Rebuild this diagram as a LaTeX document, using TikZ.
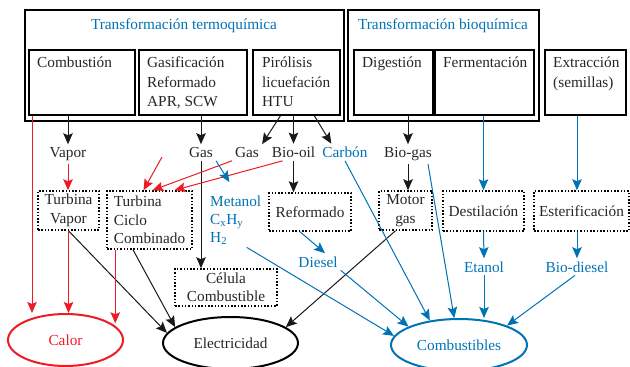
\documentclass[tikz,border=0pt]{standalone}
\usepackage{fontspec}
\setmainfont{Liberation Serif}
\usetikzlibrary{arrows.meta,shapes.geometric,calc}
\definecolor{myblue}{RGB}{0,114,182}
\definecolor{myred}{RGB}{237,28,36}
\begin{document}
\begin{tikzpicture}[x=1pt,y=-1pt,
  every node/.style={font=\fontsize{15.3}{19.5}\selectfont, text=black!85},
  frame/.style={draw, line width=1.8pt, anchor=north west, inner sep=0pt},
  boxtext/.style={anchor=base west, align=left, inner sep=0pt},
  dotbox/.style={draw, line width=1.5pt, dash pattern=on 1.5pt off 1.8pt, inner sep=2pt, align=center, font=\fontsize{15.3}{18.5}\selectfont},
  lbl/.style={anchor=base, inner sep=3pt},
  bluetext/.style={text=myblue},
  outcome/.style={ellipse, draw, line width=2pt, inner sep=0pt, minimum height=52pt},
  arr/.style={-{Stealth[length=11pt,width=9.5pt,inset=2pt]}, line width=1pt},
  arrB/.style={arr, draw=black!90},
  arrR/.style={arr, draw=myred},
  arrBl/.style={arr, draw=myblue}
]
\useasboundingbox (0,0) rectangle (630,367);
% frames
\node[frame, minimum width=319pt, minimum height=111pt] (termo) at (24,9) {};
\node[frame, minimum width=191pt, minimum height=111pt] (bio) at (347,9) {};
\node[frame, minimum width=106pt, minimum height=65pt] (comb) at (28,49) {};
\node[frame, minimum width=108pt, minimum height=65pt] (gasi) at (138,49) {};
\node[frame, minimum width=87pt, minimum height=65pt] (piro) at (252,49) {};
\node[frame, minimum width=79pt, minimum height=65pt] (dig) at (353,49) {};
\node[frame, minimum width=99pt, minimum height=65pt] (ferm) at (434,49) {};
\node[frame, minimum width=81pt, minimum height=65pt] (extr) at (544,49) {};
% titles
\node[anchor=base, inner sep=0pt, bluetext] (ttitle) at (184,29) {Transformación termoquímica};
\node[anchor=base, inner sep=0pt, bluetext] (btitle) at (443,29) {Transformación bioquímica};
% box texts (base anchor = baseline of last line)
\node[boxtext] (combt) at (37,67.5) {Combustión};
\node[boxtext] (gasit) at (147,106.5) {Gasificación\\Reformado\\APR, SCW};
\node[boxtext] (pirot) at (262,106.5) {Pirólisis\\licuefación\\HTU};
\node[boxtext] (digt) at (362,67.5) {Digestión};
\node[boxtext] (fermt) at (443,67.5) {Fermentación};
\node[boxtext] (extrt) at (553,87) {Extracción\\(semillas)};
% dotted boxes
\node[dotbox, minimum width=61pt, minimum height=39pt] (tvap) at (68.5,210.5) {Turbina\\Vapor};
\node[dotbox, align=left, minimum width=85pt, minimum height=58pt] (tcc) at (149.5,220) {Turbina\\Ciclo\\Combinado};
\node[dotbox, minimum width=102pt, minimum height=37pt] (celula) at (226,287.5) {Célula\\Combustible};
\node[dotbox, minimum width=82pt, minimum height=38pt] (refo) at (310,212) {Reformado};
\node[dotbox, minimum width=53pt, minimum height=39pt] (motor) at (405.5,210.5) {Motor\\gas};
\node[dotbox, minimum width=81pt, minimum height=40pt] (dest) at (483.5,211) {Destilación};
\node[dotbox, minimum width=95pt, minimum height=40pt] (ester) at (581.5,211) {Esterificación};
% labels
\node[lbl] (vapor) at (68,157.5) {Vapor};
\node[lbl] (gasa) at (201,157.5) {Gas};
\node[lbl] (gasb) at (247,157.5) {Gas};
\node[lbl] (biooil) at (293.5,157.5) {Bio-oil};
\node[lbl, bluetext] (carbon) at (345,157.5) {Carbón};
\node[lbl] (biogas) at (408,157.5) {Bio-gas};
\node[anchor=base west, align=left, inner sep=3pt, bluetext, font=\fontsize{15.3}{18}\selectfont] (meta) at (207,242) {Metanol\\C\textsubscript{x}H\textsubscript{y}\\H\textsubscript{2}};
\node[lbl, bluetext] (diesel) at (318,267) {Diesel};
\node[lbl, bluetext] (etanol) at (484,272) {Etanol};
\node[lbl, bluetext] (biodiesel) at (577,272) {Bio-diesel};
% outcomes
\node[outcome, draw=myred, text=myred, minimum width=115pt] (calor) at (65.5,340) {Calor};
\node[outcome, draw=black, minimum width=135pt] (elec) at (230.5,343) {Electricidad};
\node[outcome, draw=myblue, text=myblue, minimum width=136pt] (combus) at (459,345) {Combustibles};
% black connectors
\draw[arrB] (comb.south -| vapor.north) -- (vapor.north);
\draw[arrB] (gasi.south -| gasa.north) -- (gasa.north);
\draw[arrB] ([xshift=-16pt]piro.south) -- (gasb.north east);
\draw[arrB] (piro.south -| biooil.north) -- (biooil.north);
\draw[arrB] ([xshift=18pt]piro.south) -- ([xshift=12pt]carbon.north west);
\draw[arrB] (dig.south -| biogas.north) -- (biogas.north);
\draw[arrB] (biogas.south) -- (biogas.south |- motor.north);
\draw[arrB] (biooil.south) -- (biooil.south |- refo.north);
\draw[arrB] (gasa.south) -- (gasa.south |- celula.north);
\draw[arrB] (tvap.south) -- (elec.171);
\draw[arrB] ([xshift=-16.5pt]tcc.south) -- (elec.164);
\draw[arrB] ([xshift=-10pt]motor.south) -- (elec.16);
% red connectors
\draw[arrR] ([xshift=4pt]comb.south west) -- ([xshift=4pt]comb.south west |- calor.north);
\draw[arrR] (vapor.south) -- (vapor.south |- tvap.north);
\draw[arrR] (tvap.south) -- (tvap.south |- calor.north);
\draw[arrR] ([xshift=9pt]tcc.south west) -- ([xshift=9pt]tcc.south west |- calor.20);
\coordinate (redsrc) at (162,157);
\draw[arrR] (redsrc) -- ([xshift=-6pt]tcc.north);
\draw[arrR] (gasb.south west) -- ([xshift=3pt]tcc.north);
\draw[arrR] ([xshift=-11pt]biooil.south) -- ([xshift=25pt]tcc.north);
% blue connectors
\draw[arrBl] (ferm.south -| dest.north) -- (dest.north);
\draw[arrBl] (extr.south -| biodiesel.north) -- (biodiesel.north |- ester.north);
\draw[arrBl] (dest.south) -- (etanol.north);
\draw[arrBl] (ester.south -| biodiesel.north) -- (biodiesel.north);
\draw[arrBl] (etanol.south) -- (etanol.south |- combus.north);
\draw[arrBl] ([xshift=-2pt]biodiesel.south) -- (combus.22);
\draw[arrBl] ([xshift=20pt]biogas.south) -- (combus.100);
\draw[arrBl] (carbon.south) -- (combus.140);
\draw[arrBl] (diesel.south east) -- (combus.160);
\draw[arrBl] ([xshift=11pt]meta.south) -- (combus.172);
\draw[arrBl, shorten >=12pt] (gasa.south east) -- (meta.north);
\draw[arrBl] ([xshift=-10pt]refo.south) -- ([xshift=7pt]diesel.north);
\end{tikzpicture}
\end{document}
